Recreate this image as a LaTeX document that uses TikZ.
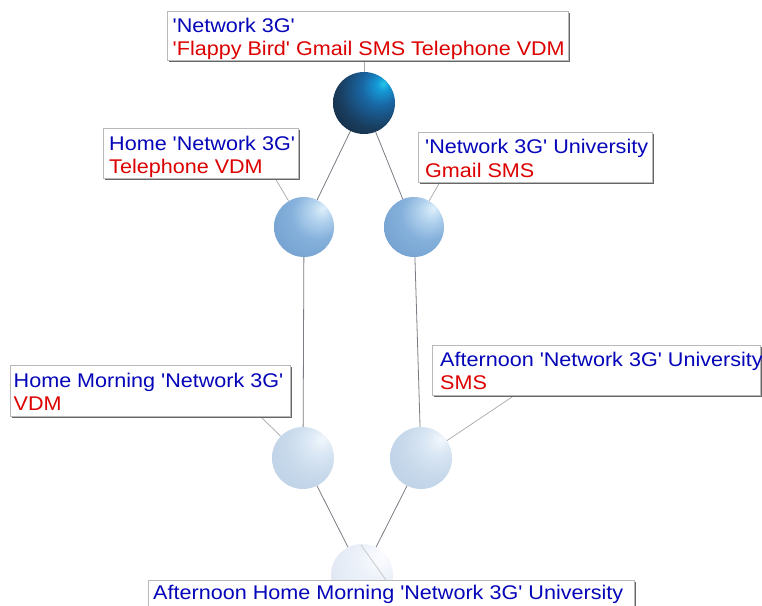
\documentclass[tikz,border=0pt]{standalone}
\usepackage{fontspec}
\usepackage{graphicx}
\usetikzlibrary{shadows}
\newfontfamily\lblfont{Liberation Sans}
\newcommand{\myq}{\textquotesingle}
\newcommand{\wx}[1]{\scalebox{1.09}[1]{#1}}
\definecolor{lblblue}{RGB}{5,5,185}
\definecolor{lblred}{RGB}{220,0,0}
\definecolor{edgegray}{RGB}{120,125,132}
\definecolor{conngray}{RGB}{165,168,172}
\pgfdeclareradialshading{topball}{\pgfpoint{16bp}{16bp}}{%
  rgb(0bp)=(0.15,0.78,0.92);rgb(5bp)=(0.08,0.6,0.84);rgb(15bp)=(0.1,0.4,0.64);%
  rgb(30bp)=(0.1,0.24,0.37);rgb(50bp)=(0.06,0.12,0.18);rgb(80bp)=(0.03,0.05,0.08)}
\pgfdeclareradialshading{midball}{\pgfpoint{16bp}{16bp}}{%
  rgb(0bp)=(0.88,0.94,0.98);rgb(8bp)=(0.72,0.84,0.94);rgb(22bp)=(0.52,0.69,0.86);%
  rgb(45bp)=(0.43,0.61,0.8);rgb(72bp)=(0.32,0.47,0.65)}
\pgfdeclareradialshading{lowball}{\pgfpoint{16bp}{16bp}}{%
  rgb(0bp)=(0.95,0.97,0.99);rgb(10bp)=(0.86,0.91,0.96);rgb(25bp)=(0.78,0.85,0.92);%
  rgb(50bp)=(0.72,0.8,0.89);rgb(72bp)=(0.62,0.7,0.8)}
\pgfdeclareradialshading{botball}{\pgfpoint{16bp}{16bp}}{%
  rgb(0bp)=(0.99,0.99,1);rgb(15bp)=(0.93,0.95,0.98);rgb(40bp)=(0.87,0.9,0.95);%
  rgb(72bp)=(0.78,0.82,0.88)}
\tikzset{
  ballnode/.style={circle, inner sep=0pt, minimum size=62pt, draw=none},
  edgeline/.style={draw=edgegray, line width=0.8pt},
  connline/.style={draw=conngray, line width=0.7pt},
  lbox/.style={draw=gray!55, line width=0.6pt, fill=white, inner sep=0pt, anchor=north west,
    drop shadow={shadow xshift=1.8pt, shadow yshift=-1.8pt, fill=black!60, opacity=1}},
  btext/.style={text=lblblue, anchor=base west, inner sep=0pt, font=\lblfont\fontsize{19.8}{23}\selectfont},
  rtext/.style={btext, text=lblred}
}
\begin{document}
\begin{tikzpicture}[x=1pt, y=-1pt]
\useasboundingbox (0,0) rectangle (762,605);
\clip (0,0) rectangle (762,605);
\fill[white] (0,0) rectangle (762,605);
% balls (positions)
\coordinate (Tc) at (364,103);
\coordinate (MLc) at (304,227);
\coordinate (MRc) at (414,227);
\coordinate (LLc) at (303,458);
\coordinate (LRc) at (421,458);
\coordinate (Bc) at (362,575);
\node[ballnode] (T) at (Tc) {};
\node[ballnode, minimum size=60pt] (ML) at (MLc) {};
\node[ballnode, minimum size=60pt] (MR) at (MRc) {};
\node[ballnode] (LL) at (LLc) {};
\node[ballnode] (LR) at (LRc) {};
\node[ballnode] (B) at (Bc) {};
% label connector anchor points
\coordinate (c0) at (364,60);
\coordinate (c1) at (275,178);
\coordinate (c2) at (440,182);
\coordinate (c3) at (260,416);
\coordinate (c4) at (515,395);
\coordinate (c5a) at (361,545);
\coordinate (c5b) at (386,580);
% edges
\draw[edgeline] (T) -- (ML);
\draw[edgeline] (T) -- (MR);
\draw[edgeline] (ML) -- (LL);
\draw[edgeline] (MR) -- (LR);
\draw[edgeline] (LL) -- (B);
\draw[edgeline] (LR) -- (B);
% label connectors
\draw[connline] (c0) -- (T);
\draw[connline] (c1) -- (ML);
\draw[connline] (c2) -- (MR);
\draw[connline] (c3) -- (LL);
\draw[connline] (c4) -- (LR);
% ball shading
\shade[shading=topball] (Tc) circle[radius=31];
\shade[shading=midball] (MLc) circle[radius=30];
\shade[shading=midball] (MRc) circle[radius=30];
\shade[shading=lowball] (LLc) circle[radius=31];
\shade[shading=lowball] (LRc) circle[radius=31];
\shade[shading=botball] (Bc) circle[radius=31];
\draw[draw=gray!45, line width=0.7pt] (c5a) -- (c5b);
% label boxes
\node[lbox, minimum width=401pt, minimum height=49pt] (L0) at (167,11) {};
\node[btext] (L0a) at (172.5,32) {\wx{\myq Network 3G\myq}};
\node[rtext] (L0b) at (172.5,55) {\wx{\myq Flappy Bird\myq\ Gmail SMS Telephone VDM}};
\node[lbox, minimum width=195pt, minimum height=50pt] (L1) at (103,128) {};
\node[btext] (L1a) at (109,150) {\wx{Home \myq Network 3G\myq}};
\node[rtext] (L1b) at (109,173) {\wx{Telephone VDM}};
\node[lbox, minimum width=234pt, minimum height=50pt] (L2) at (418,132) {};
\node[btext] (L2a) at (425,153) {\wx{\myq Network 3G\myq\ University}};
\node[rtext] (L2b) at (425,177) {\wx{Gmail SMS}};
\node[lbox, minimum width=280pt, minimum height=51pt] (L3) at (10,365) {};
\node[btext] (L3a) at (13.5,387) {\wx{Home Morning \myq Network 3G\myq}};
\node[rtext] (L3b) at (13.5,410) {\wx{VDM}};
\node[lbox, minimum width=328pt, minimum height=50pt] (L4) at (432,345) {};
\node[btext] (L4a) at (440,366) {\wx{Afternoon \myq Network 3G\myq\ University}};
\node[rtext] (L4b) at (440,389) {\wx{SMS}};
\node[lbox, minimum width=486pt, minimum height=50pt] (L5) at (148,580) {};
\node[btext] (L5a) at (153,599.5) {\wx{Afternoon Home Morning \myq Network 3G\myq\ University}};
\end{tikzpicture}
\end{document}
